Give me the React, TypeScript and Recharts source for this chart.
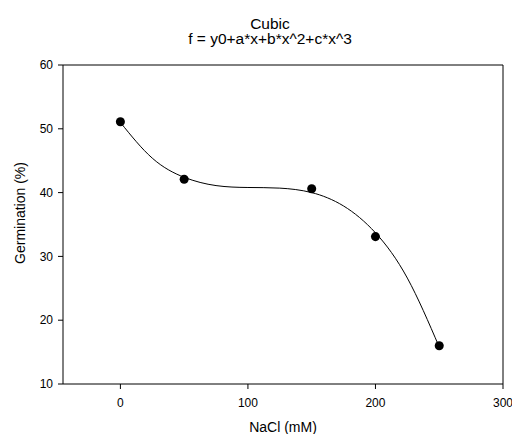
import { ComposedChart, Line, Scatter, XAxis, YAxis, ReferenceLine } from 'recharts';

// measured germination at each NaCl level
const naclLevels = [0, 50, 150, 200, 250];
const germination = [51.1, 42.1, 40.6, 33.1, 16.0];

// fitted cubic curve
const curveX = [0, 25, 50, 75, 100, 125, 150, 175, 200, 225, 250];
const curveY = [51.0, 45.4, 42.4, 41.1, 40.8, 40.7, 40.0, 37.9, 33.7, 26.6, 15.8];

const xTicks = [0, 100, 200, 300];
const yTicks = [10, 20, 30, 40, 50, 60];

const points = naclLevels.map((x, i) => ({ x, y: germination[i] }));
const curve = curveX.map((x, i) => ({ x, y: curveY[i] }));

const font = '"Liberation Sans", Arial, sans-serif';
const tickStyle = { fontSize: 12, fill: '#000', fontFamily: font };

export default function App() {
  return (
    <div style={{ position: 'absolute', left: 0, top: 0, width: 512, height: 434, fontFamily: font }}>
      <ComposedChart width={512} height={434} margin={{ top: 65, right: 9, left: 0, bottom: 0 }}>
        <XAxis
          type="number"
          dataKey="x"
          domain={[-45, 300]}
          ticks={xTicks}
          allowDataOverflow
          height={50}
          stroke="#000"
          tickSize={5}
          tickMargin={9}
          tick={tickStyle}
        />
        <YAxis
          type="number"
          dataKey="y"
          domain={[10, 60]}
          ticks={yTicks}
          allowDataOverflow
          width={63}
          stroke="#000"
          tickSize={5}
          tickMargin={5}
          tick={tickStyle}
        />
        <ReferenceLine y={60} stroke="#000" />
        <ReferenceLine x={300} stroke="#000" />
        <Line
          data={curve}
          dataKey="y"
          type="natural"
          stroke="#000"
          strokeWidth={1}
          dot={false}
          isAnimationActive={false}
        />
        <Scatter data={points} dataKey="y" fill="#000" shape="circle" isAnimationActive={false} />
      </ComposedChart>
      <svg width={512} height={434} style={{ position: 'absolute', left: 0, top: 0, pointerEvents: 'none' }}>
        <text x={270} y={28.5} textAnchor="middle" fontSize={15.5} fontFamily={font}>Cubic</text>
        <text x={270} y={44} textAnchor="middle" fontSize={15.5} fontFamily={font}>f = y0+a*x+b*x^2+c*x^3</text>
        <text x={283} y={432} textAnchor="middle" fontSize={14} fontFamily={font}>NaCl (mM)</text>
        <text
          x={25}
          y={213}
          textAnchor="middle"
          fontSize={14}
          fontFamily={font}
          transform="rotate(-90 25 213)"
        >
          Germination (%)
        </text>
      </svg>
    </div>
  );
}
